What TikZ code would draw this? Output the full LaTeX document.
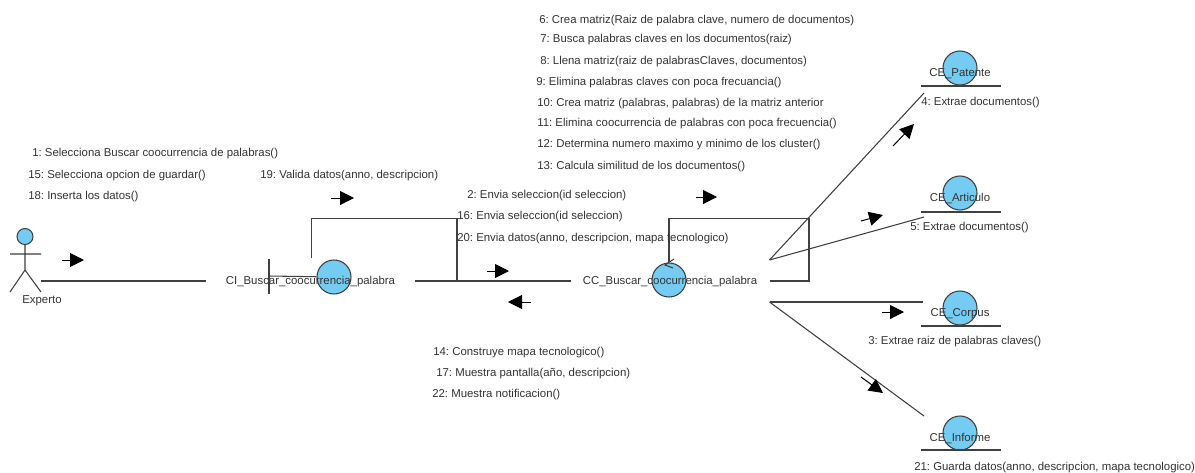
\documentclass[tikz,border=0pt]{standalone}
\usepackage{fontspec}
\setmainfont{Liberation Sans}
\usetikzlibrary{arrows.meta}
\definecolor{fillblue}{HTML}{74CCF2}
\definecolor{linec}{HTML}{404040}
\definecolor{textc}{HTML}{333333}
\frenchspacing
\tikzset{
  x=0.75pt,y=-0.75pt,
  conn/.style={draw=linec,line width=0.8pt},
  objcircle/.style={circle,draw=linec,fill=fillblue,line width=0.8pt,inner sep=0pt,minimum size=25.5pt},
  msg/.style={font=\fontsize{8.55pt}{10pt}\selectfont,text=textc,anchor=base west,inner sep=0pt,yshift=-2.6pt},
  objlabel/.style={font=\fontsize{8.55pt}{10pt}\selectfont,text=textc,inner sep=0pt,outer sep=0pt,text height=7pt,text depth=2pt},
  flow/.style={draw=black,line width=0.75pt,-{Triangle[length=10.5pt,width=10.5pt]}},
}
\begin{document}
\begin{tikzpicture}
\path[use as bounding box,fill=white] (0,0) rectangle (1195,472);
% actor
\node[circle,draw=linec,fill=fillblue,line width=0.8pt,inner sep=0pt,minimum size=12pt] (head) at (25,236.5) {};
\coordinate (hip) at (25,270);
\coordinate (armL) at (10,254);
\coordinate (armR) at (41,254);
\coordinate (legL) at (10,292);
\coordinate (legR) at (41,292);
\draw[conn] (head) -- (hip) (armL) -- (armR) (legL) -- (hip) -- (legR);
\node[objlabel] (experto) at (42,300) {Experto};
\coordinate (actorEnd) at (41,281);
% boundary
\node[objcircle] (ciC) at (334,277) {};
\coordinate (barT) at (269,259);
\coordinate (barB) at (269,294);
\coordinate (barM) at (269,276);
\draw[conn] (barT) -- (barB);
\draw[conn] (barM) -- (ciC);
\node[objlabel,minimum width=156.75pt,minimum height=31.5pt] (ci) at (310.5,281) {CI\_Buscar\_coocurrencia\_palabra};
% control
\node[objcircle] (ccC) at (669,280) {};
\coordinate (tipA) at (665,265);
\coordinate (tipB) at (674,259);
\coordinate (tipC) at (673,268);
\draw[conn] (tipB) -- (tipA) -- (tipC);
\node[objlabel,minimum width=149.25pt,minimum height=31.5pt] (cc) at (670,281) {CC\_Buscar\_coocurrencia\_palabra};
% entities
\foreach \n/\cy/\uy/\ly/\t in {pat/68/86/73/CE\_Patente,art/193/212/198/CE\_Articulo,cor/308/326/313/CE\_Corpus,inf/433/450/438/CE\_Informe}{
  \node[objcircle] (\n C) at (960,\cy) {};
  \coordinate (\n UL) at (921,\uy);
  \coordinate (\n UR) at (1001,\uy);
  \draw[conn] (\n UL) -- (\n UR);
  \node[objlabel] (\n) at (960,\ly) {\t};
}
\coordinate (patEnd) at (924,93);
\coordinate (artEnd) at (924,217);
\coordinate (corEnd) at (923,302);
\coordinate (infEnd) at (924,416);
% connectors
\draw[conn] (actorEnd) -- (ci.west);
\draw[conn] (ci.east) -- (cc.west);
\draw[conn] (cc.north east) -- (patEnd);
\draw[conn] (cc.north east) -- (artEnd);
\draw[conn] (cc.south east) -- (corEnd);
\draw[conn] (cc.south east) -- (infEnd);
% self loops
\coordinate (l1a) at (457,281);
\coordinate (l1b) at (311.5,258);
\draw[conn] (l1a) -- (457,218.5) -- (311.5,218.5) -- (l1b);
\coordinate (l2a) at (cc.east);
\coordinate (l2b) at (669,262);
\draw[conn] (l2a) -- (809,281) -- (809,218.5) -- (669,218.5) -- (l2b);
% direction arrows
\foreach \i/\a/\b in {a/{62,260}/{84,260},b/{331,198}/{354,198},c/{487,271}/{509,271},d/{531,302}/{508,302},e/{696,197}/{717,197},f/{893,146}/{914,124},g/{861,221}/{883,215},h/{882,312}/{904,312},k/{861,377}/{883,393}}{
  \coordinate (fs\i) at (\a);
  \coordinate (fe\i) at (\b);
  \draw[flow] (fs\i) -- (fe\i);
}
% messages
\node[msg] (m1) at (32,153) {1: Selecciona Buscar coocurrencia de palabras()};
\node[msg] (m15) at (28,175) {15: Selecciona opcion de guardar()};
\node[msg] (m18) at (28,196) {18: Inserta los datos()};
\node[msg] (m19) at (260,175) {19: Valida datos(anno, descripcion)};
\node[msg] (m2) at (467,195) {2: Envia seleccion(id seleccion)};
\node[msg] (m16) at (457,216) {16: Envia seleccion(id seleccion)};
\node[msg] (m20) at (457,238) {20: Envia datos(anno, descripcion, mapa tecnologico)};
\node[msg] (m6) at (539,20) {6: Crea matriz(Raiz de palabra clave, numero de documentos)};
\node[msg] (m7) at (540,39) {7: Busca palabras claves en los documentos(raiz)};
\node[msg] (m8) at (540,61) {8: Llena matriz(raiz de palabrasClaves, documentos)};
\node[msg] (m9) at (536,82) {9: Elimina palabras claves con poca frecuancia()};
\node[msg] (m10) at (537,103) {10: Crea matriz (palabras, palabras) de la matriz anterior};
\node[msg] (m11) at (537,123) {11: Elimina coocurrencia de palabras con poca frecuencia()};
\node[msg] (m12) at (537,144) {12: Determina numero maximo y minimo de los cluster()};
\node[msg] (m13) at (537,166) {13: Calcula similitud de los documentos()};
\node[msg] (m14) at (433,352) {14: Construye mapa tecnologico()};
\node[msg] (m17) at (436,373) {17: Muestra pantalla(año, descripcion)};
\node[msg] (m22) at (432,394) {22: Muestra notificacion()};
\node[msg] (m4) at (921,102) {4: Extrae documentos()};
\node[msg] (m5) at (910,227) {5: Extrae documentos()};
\node[msg] (m3) at (868,341) {3: Extrae raiz de palabras claves()};
\node[msg] (m21) at (914,467) {21: Guarda datos(anno, descripcion, mapa tecnologico)};
\end{tikzpicture}
\end{document}
